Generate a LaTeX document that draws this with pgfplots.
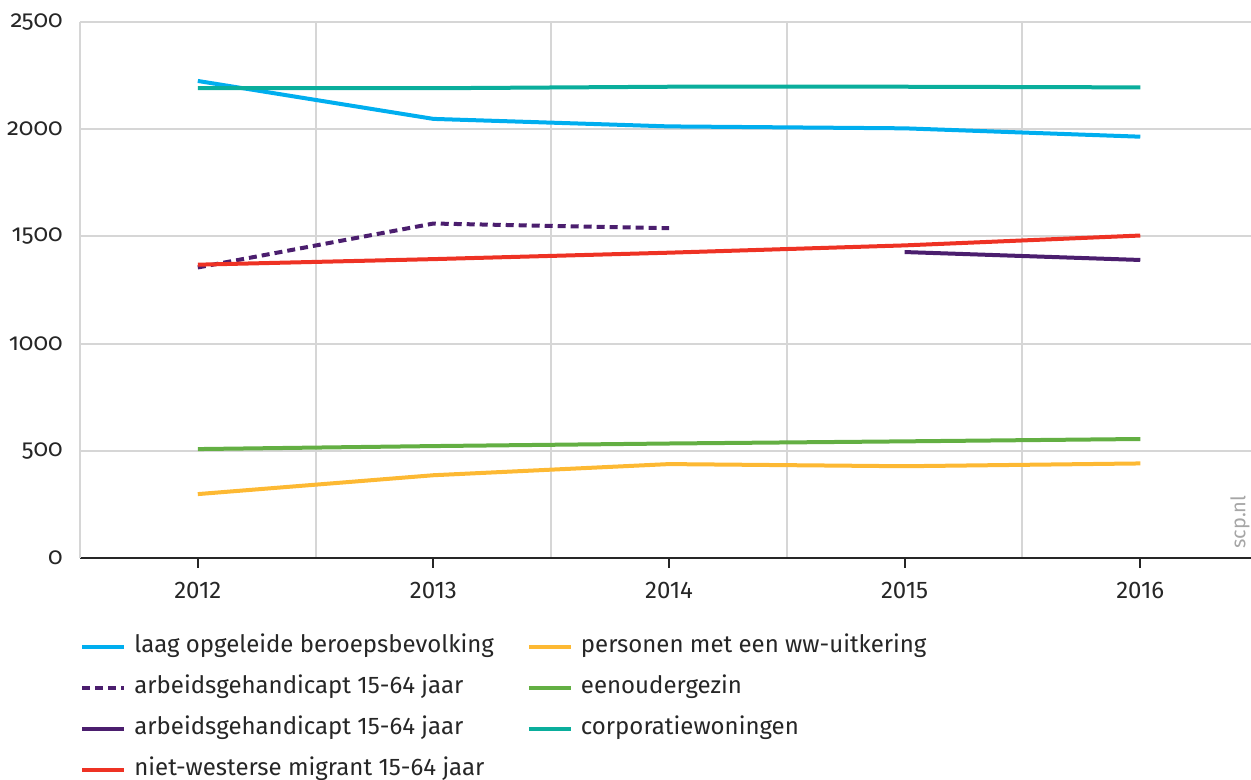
\documentclass[border=0pt]{standalone}
\usepackage{pgfplots}
\pgfplotsset{compat=1.18}
\usepackage{fontspec}
\setmainfont{Fira Sans}
\definecolor{cblue}{HTML}{00AEEF}
\definecolor{cteal}{HTML}{0AAE9C}
\definecolor{cpurple}{HTML}{4B1E6E}
\definecolor{cred}{HTML}{EE3224}
\definecolor{cgreen}{HTML}{63AF43}
\definecolor{cyellow}{HTML}{FDB933}
\definecolor{cgrid}{HTML}{D6D6D6}
\begin{document}
\begin{tikzpicture}
\begin{axis}[
  at={(40pt,111pt)}, anchor=south west,
  scale only axis,
  width=585.5pt, height=268pt,
  xmin=2011.5, xmax=2016.47,
  ymin=0, ymax=2500,
  axis x line=bottom, axis y line=left,
  axis line style={-},
  y axis line style={cgrid, line width=1pt},
  x axis line style={black!85, line width=1pt},
  xtick={2012,2013,2014,2015,2016},
  xticklabels={2012,2013,2014,2015,2016},
  minor xtick={2012.5,2013.5,2014.5,2015.5},
  ytick={0,500,1000,1500,2000,2500},
  ymajorgrids, xminorgrids,
  grid style={cgrid, line width=1pt},
  minor grid style={cgrid, line width=1pt},
  xtick align=outside,
  major x tick style={black!85, line width=1pt},
  minor x tick style={draw=none},
  major tick length=5pt,
  ytick style={draw=none},
  /pgf/number format/assume math mode=true,
  /pgf/number format/set thousands separator={},
  tick label style={font=\fontsize{12}{14}\selectfont, text=black!85},
  yticklabel style={font=\fontsize{12}{14}\selectfont\addfontfeatures{Numbers=OldStyle}, anchor=east, inner sep=0pt, xshift=-6pt},
  xticklabel style={anchor=north, inner sep=0pt, yshift=-7pt},
  legend style={at={(0,-0.1443)}, anchor=north west, draw=none, fill=none,
    inner sep=0pt, font=\fontsize{12}{14}\selectfont, text=black!85,
    column sep=4pt, row sep=9.5pt,
    nodes={inner sep=0pt, text height=8.5pt, text depth=2.5pt},
    /tikz/every even column/.append style={column sep=16.5pt}},
  legend cell align=left,
  legend columns=2,
  legend image code/.code={\draw[#1] (0pt,0pt) -- (21pt,0pt);},
  every axis plot/.append style={line width=2pt},
  clip=false,
]
\addplot[cblue] coordinates {(2012,2225) (2013,2048) (2014,2013) (2015,2004) (2016,1965)};
\addlegendentry{laag opgeleide beroepsbevolking}
\addplot[cyellow] coordinates {(2012,298) (2013,386) (2014,438) (2015,428) (2016,441)};
\addlegendentry{personen met een ww-uitkering}
\addplot[cpurple, dash pattern=on 4pt off 2.5pt] coordinates {(2012,1355) (2013,1560) (2014,1538)};
\addlegendentry{arbeidsgehandicapt 15-64 jaar}
\addplot[cgreen] coordinates {(2012,508) (2013,522) (2014,534) (2015,544) (2016,555)};
\addlegendentry{eenoudergezin}
\addplot[cpurple] coordinates {(2015,1427) (2016,1390)};
\addlegendentry{arbeidsgehandicapt 15-64 jaar}
\addplot[cteal] coordinates {(2012,2191) (2013,2191) (2014,2198) (2015,2198) (2016,2195)};
\addlegendentry{corporatiewoningen}
\addplot[cred] coordinates {(2012,1368) (2013,1394) (2014,1424) (2015,1458) (2016,1504)};
\addlegendentry{niet-westerse migrant 15-64 jaar}
\node[rotate=90, text=black!35, font=\fontsize{10}{12}\selectfont, inner sep=0pt] at (rel axis cs:0.9906,0.067) {scp.nl};
\end{axis}
\pgfresetboundingbox
\path (0,0) rectangle (625.5pt,390pt);
\end{tikzpicture}
\end{document}
